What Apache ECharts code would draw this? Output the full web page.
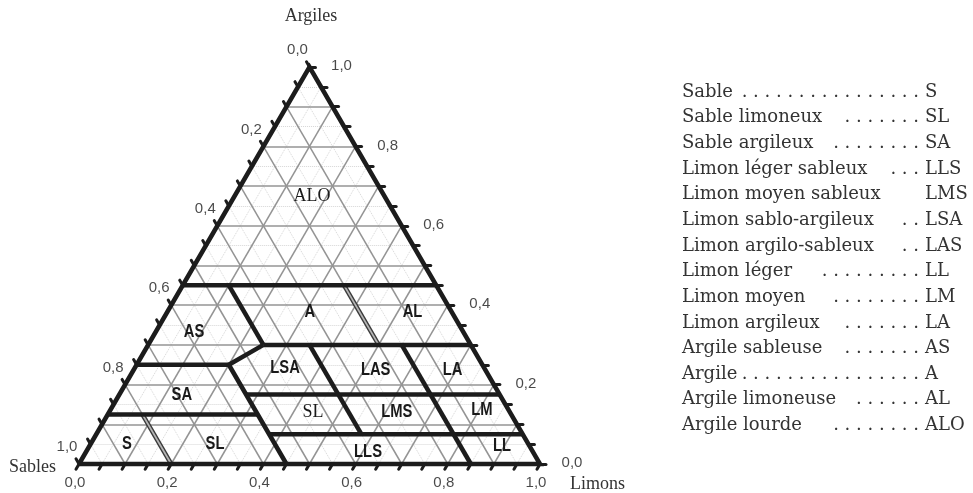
<!DOCTYPE html>
<html>
<head>
<meta charset="utf-8">
<title>Triangle des textures</title>
<script src="https://cdn.jsdelivr.net/npm/echarts@6/dist/echarts.min.js"></script>
<style>
  html, body { margin: 0; padding: 0; background: #fff; }
  #chart { width: 973px; height: 493px; }
</style>
</head>
<body>
<div id="chart"></div>
<script>
// all fractions: clay (argiles), sand (sables); silt (limons) = 1 - clay - sand
const tickValues = [0, 0.2, 0.4, 0.6, 0.8, 1.0];
const tickLabels = ['0,0', '0,2', '0,4', '0,6', '0,8', '1,0'];
const gridStep = 0.05;

// class boundaries, polylines of [clay, sand]
const thickBounds = [
  [[0.45, 0.55], [0.45, 0]],
  [[0.45, 0.45], [0.30, 0.45]],
  [[0.30, 0.45], [0.30, 0]],
  [[0.30, 0.45], [0.25, 0.55], [0, 0.55]],
  [[0.25, 0.75], [0.25, 0.55]],
  [[0.125, 0.875], [0.125, 0.55]],
  [[0.175, 0.55], [0.175, 0]],
  [[0.075, 0.55], [0.075, 0]],
  [[0.30, 0.35], [0.075, 0.35]],
  [[0.30, 0.15], [0, 0.15]]
];
const doubleBounds = [
  [[0.45, 0.20], [0.30, 0.20]],
  [[0.125, 0.80], [0, 0.80]]
];

// class codes inside the triangle
const classCodes = ['ALO', 'A', 'AL', 'AS', 'LSA', 'LAS', 'LA', 'SA', 'SL', 'LMS', 'LM', 'S', 'SL', 'LLS', 'LL'];
const classClay = [0.675, 0.383, 0.383, 0.333, 0.242, 0.237, 0.237, 0.174, 0.131, 0.131, 0.136, 0.050, 0.050, 0.030, 0.045];
const classSand = [0.157, 0.308, 0.085, 0.584, 0.432, 0.238, 0.071, 0.690, 0.427, 0.245, 0.058, 0.871, 0.680, 0.358, 0.060];
const serifCodes = [0, 8];

// legend
const legendNames = ['Sable', 'Sable limoneux', 'Sable argileux', 'Limon léger sableux', 'Limon moyen sableux',
  'Limon sablo-argileux', 'Limon argilo-sableux', 'Limon léger', 'Limon moyen', 'Limon argileux',
  'Argile sableuse', 'Argile', 'Argile limoneuse', 'Argile lourde'];
const legendDots = [16, 7, 8, 3, 0, 2, 2, 9, 8, 7, 7, 16, 6, 8];
const legendCodes = ['S', 'SL', 'SA', 'LLS', 'LMS', 'LSA', 'LAS', 'LL', 'LM', 'LA', 'AS', 'A', 'AL', 'ALO'];

function toXY(clay, sand) {
  return [1 - sand - clay / 2, clay];
}

const majorLines = [];
const minorLines = [];
for (let i = 1; i < 20; i++) {
  const f = i * gridStep;
  const target = i % 2 === 0 ? majorLines : minorLines;
  target.push({ coords: [toXY(f, 1 - f), toXY(f, 0)] });     // argiles
  target.push({ coords: [toXY(1 - f, f), toXY(0, f)] });     // sables
  target.push({ coords: [toXY(0, 1 - f), toXY(1 - f, 0)] }); // limons
}

const k = 0.013;
const ticks = [];
for (let i = 0; i <= 20; i++) {
  const f = i * gridStep;
  const b = toXY(0, 1 - f);
  ticks.push({ coords: [b, [b[0] - k / 2, b[1] - k]] });
  const l = toXY(1 - f, f);
  ticks.push({ coords: [l, [l[0] - k / 2, l[1] + k]] });
  const r = toXY(f, 0);
  ticks.push({ coords: [r, [r[0] + k, r[1]]] });
}

const tickFont = { fontFamily: 'Liberation Sans', fontSize: 15, color: '#1a1a1a' };
function tickSeries(points, offset) {
  return {
    type: 'scatter', symbolSize: 0, silent: true, clip: false, z: 6,
    data: points.map((p, i) => ({ value: p, name: tickLabels[i] })),
    label: Object.assign({ show: true, position: 'inside', offset: offset, formatter: '{b}' }, tickFont)
  };
}

const toLines = arr => arr.map(p => ({ coords: p.map(q => toXY(q[0], q[1])) }));

const legendGraphics = [];
const legendFont = '18px "DejaVu Serif"';
legendNames.forEach((name, i) => {
  const y = 92 + i * 25.65;
  legendGraphics.push({ type: 'text', x: 682, y: y, style: { text: name, font: legendFont, fill: '#333', verticalAlign: 'middle' } });
  if (legendDots[i] > 0) {
    legendGraphics.push({ type: 'text', x: 919, y: y, style: { text: '. '.repeat(legendDots[i]).trim(), font: legendFont, fill: '#333', align: 'right', verticalAlign: 'middle' } });
  }
  legendGraphics.push({ type: 'text', x: 925, y: y, style: { text: legendCodes[i], font: legendFont, fill: '#333', verticalAlign: 'middle' } });
});

const titleFont = '18px "Liberation Serif"';
const titles = [
  { type: 'text', x: 311, y: 16, style: { text: 'Argiles', font: titleFont, fill: '#333', align: 'center', verticalAlign: 'middle' } },
  { type: 'text', x: 9, y: 467, style: { text: 'Sables', font: titleFont, fill: '#333', verticalAlign: 'middle' } },
  { type: 'text', x: 570, y: 484, style: { text: 'Limons', font: titleFont, fill: '#333', verticalAlign: 'middle' } }
];

const chart = echarts.init(document.getElementById('chart'));
chart.setOption({
  animation: false,
  backgroundColor: '#fff',
  grid: { left: 79, top: 67, width: 461, height: 397 },
  xAxis: { type: 'value', min: 0, max: 1, show: false },
  yAxis: { type: 'value', min: 0, max: 1, show: false },
  graphic: titles.concat(legendGraphics),
  series: [
    {
      type: 'lines', coordinateSystem: 'cartesian2d', silent: true, clip: false, z: 1,
      lineStyle: { color: '#d6d6d6', width: 1, type: 'dotted', opacity: 1 },
      data: minorLines
    },
    {
      type: 'lines', coordinateSystem: 'cartesian2d', silent: true, clip: false, z: 2,
      lineStyle: { color: '#949494', width: 1.5, opacity: 1 },
      data: majorLines
    },
    {
      type: 'lines', coordinateSystem: 'cartesian2d', polyline: true, silent: true, clip: false, z: 3,
      lineStyle: { color: '#3a3a3a', width: 4.5, opacity: 1 },
      data: toLines(doubleBounds)
    },
    {
      type: 'lines', coordinateSystem: 'cartesian2d', polyline: true, silent: true, clip: false, z: 3,
      lineStyle: { color: '#b5b5b5', width: 1.8, opacity: 1 },
      data: toLines(doubleBounds)
    },
    {
      type: 'lines', coordinateSystem: 'cartesian2d', polyline: true, silent: true, clip: false, z: 4,
      lineStyle: { color: '#1c1c1c', width: 4.5, opacity: 1, join: 'round' },
      data: toLines(thickBounds)
    },
    {
      type: 'lines', coordinateSystem: 'cartesian2d', polyline: true, silent: true, clip: false, z: 5,
      lineStyle: { color: '#1c1c1c', width: 4.5, opacity: 1 },
      data: [{ coords: [toXY(0, 1), toXY(0, 0), toXY(1, 0), toXY(0, 1)] }]
    },
    {
      type: 'lines', coordinateSystem: 'cartesian2d', silent: true, clip: false, z: 5,
      lineStyle: { color: '#1c1c1c', width: 3, opacity: 1, cap: 'round' },
      data: ticks
    },
    tickSeries(tickValues.map(t => toXY(0, 1 - t)), [-4, 19]),
    tickSeries(tickValues.map(t => toXY(1 - t, t)), [-12, -17]),
    tickSeries(tickValues.map(t => toXY(t, 0)), [32, -1]),
    {
      type: 'custom', coordinateSystem: 'cartesian2d', silent: true, clip: false, z: 7,
      data: classCodes.map((c, i) => [toXY(classClay[i], classSand[i])[0], toXY(classClay[i], classSand[i])[1], i]),
      renderItem: function (params, api) {
        const i = api.value(2);
        const p = api.coord([api.value(0), api.value(1)]);
        const serif = serifCodes.indexOf(i) >= 0;
        return {
          type: 'text', x: p[0], y: p[1], scaleX: serif ? 1 : 0.82,
          style: {
            text: classCodes[i],
            font: serif ? '18px "Liberation Serif"' : 'bold 18px "Liberation Sans"',
            fill: '#1a1a1a', align: 'center', verticalAlign: 'middle'
          }
        };
      }
    }
  ]
});
</script>
</body>
</html>
